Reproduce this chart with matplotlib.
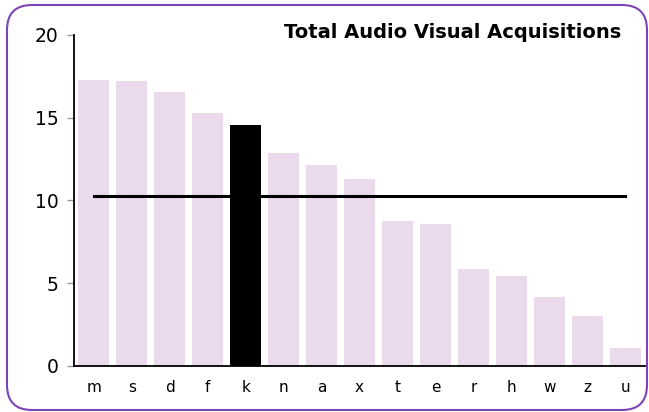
import matplotlib
matplotlib.use('Agg')
import matplotlib.pyplot as plt
from matplotlib.patches import FancyBboxPatch
from matplotlib.transforms import IdentityTransform
import numpy as np

categories = ['m', 's', 'd', 'f', 'k', 'n', 'a', 'x', 't', 'e', 'r', 'h', 'w', 'z', 'u']
values = [17.3, 17.2, 16.57, 15.3, 14.55, 12.85, 12.15, 11.28, 8.75, 8.58, 5.86, 5.44, 4.17, 3.02, 1.07]
highlight = 'k'
average = 10.25

bar_color = '#ebd9ec'
border_color = '#7b45b5'

fig = plt.figure(figsize=(6.49, 4.12), dpi=100)
ax = fig.add_axes([0.114, 0.1117, 0.880, 0.8034])

x = np.arange(len(categories))
colors = ['black' if c == highlight else bar_color for c in categories]
ax.bar(x, values, width=0.82, color=colors)
ax.plot([x[0], x[-1]], [average, average], color='black', linewidth=2.2)

ax.set_xlim(-0.52, len(categories) - 0.48)
ax.set_ylim(0, 20)
ax.set_yticks([0, 5, 10, 15, 20])
ax.set_xticks(x)
ax.set_xticklabels(categories)
ax.tick_params(axis='y', labelsize=13.5, color='#999999', length=5, width=1, pad=6)
ax.tick_params(axis='x', labelsize=11, length=0, pad=10)
for s in ['top', 'right']:
    ax.spines[s].set_visible(False)
for s in ['left', 'bottom']:
    ax.spines[s].set_linewidth(1.3)

fig.text(0.957, 0.922, 'Total Audio Visual Acquisitions', ha='right', va='center',
         fontsize=14, fontweight='bold')

# rounded purple frame around the chart (pixel coordinates)
frame = FancyBboxPatch((7, 2), 640, 405, transform=IdentityTransform(),
                       boxstyle='round,pad=0,rounding_size=25',
                       fill=False, edgecolor=border_color, linewidth=1.5)
fig.patches.append(frame)

fig.savefig('out.png', dpi=100)
